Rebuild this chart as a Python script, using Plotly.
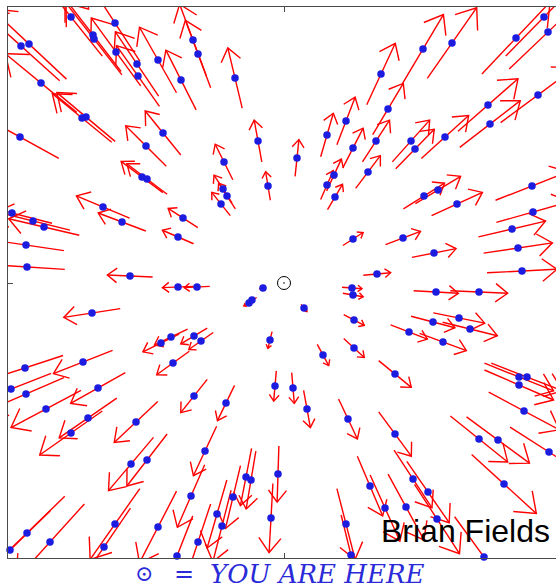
import plotly.graph_objects as go

# Galaxy positions relative to the observer (arbitrary distance units)
gal_x = [
    -213, -169, -191, -190, -263, -255, -168, -147, -126, -146, -103, -91, -86, -49,
    -243, -202, -198, -264, -121, -138, -60, -26, -16, -142, -137, -61, -57, -63,
    -181, -162, -101, -106, -272, -251, -240, -258, -257, -154, -106, -87, -21,
    260, 264, 232, 139, 168, 97, 254, 204, 206, 104, 62, 43, 69, 92, 13, 127, 131,
    161, 84, 50, 43, 51, 140, 154, 173, 248, 249, 228, 234, 238, 69, 119, 150, 93, 68,
    152, 195, 69, 20, 70, 149, 175, 186, 125, 159, 39, 70, 111, 235, 243, 235, 9, 23,
    240, 64, 111, 195, 214, 265, -6, 129, 144, 86, 220, 101, 122, 153, 62, 67, 200,
    -35, -32, -192, -113, -123, -90, -83, -111, -14, -259, -201, -273, -258, -186,
    -238, -196, -213, -90, -58, -9, -148, -79, -153, -137, -38, -33, -93, -51, -67,
    -62, -13, -169, -257, -274, -234, -126, -180, -86, -107,
]
gal_y = [
    266, 260, 248, 244, 237, 239, 231, 219, 223, 207, 203, 243, 229, 205,
    200, 165, 166, 146, 150, 137, 121, 142, 97, 106, 104, 94, 87, 79,
    76, 61, 65, 46, 70, 62, 56, 38, 16, 7, -4, -4, -5,
    266, 251, 245, 234, 240, 209, 188, 178, 159, 174, 162, 148, 135, 142, 125, 142, 134,
    146, 111, 108, 98, 86, 87, 93, 79, 97, 71, 54, 35, 12, 44, 45, 30, 9, -5,
    -9, -9, -12, -25, -37, -39, -35, -46, -49, -59, -72, -65, -91, -94, -94, -102, -105, -126,
    -128, -136, -151, -156, -157, -169, -191, -196, -209, -203, -201, -225, -224, -236, -241, -272, -274,
    -20, -17, -30, -54, -60, -53, -58, -80, -57, -85, -79, -106, -111, -105,
    -126, -135, -150, -113, -120, -103, -139, -168, -181, -177, -194, -197, -213, -214, -231,
    -243, -235, -241, -250, -267, -259, -244, -264, -259, -273,
]

# Hubble flow: each galaxy moves straight away from us, by an amount
# proportional to its distance.  The arrow spans the motion on both
# sides of the plotted position.
STEP = 0.147
HEAD_BACK = 0.21
HEAD_SIDE = 0.16

arrow_x, arrow_y = [], []
for x, y in zip(gal_x, gal_y):
    tx, ty = x * (1 - STEP), y * (1 - STEP)
    hx, hy = x * (1 + STEP), y * (1 + STEP)
    ux, uy = hx - tx, hy - ty
    px, py = -uy, ux
    w1x = hx - HEAD_BACK * ux + HEAD_SIDE * px
    w1y = hy - HEAD_BACK * uy + HEAD_SIDE * py
    w2x = hx - HEAD_BACK * ux - HEAD_SIDE * px
    w2y = hy - HEAD_BACK * uy - HEAD_SIDE * py
    arrow_x += [tx, hx, None, w1x, hx, w2x, None]
    arrow_y += [ty, hy, None, w1y, hy, w2y, None]

fig = go.Figure()
fig.add_trace(go.Scatter(
    x=arrow_x, y=arrow_y, mode="lines",
    line=dict(color="#ff0000", width=1.4),
    hoverinfo="skip", showlegend=False,
))
fig.add_trace(go.Scatter(
    x=gal_x, y=gal_y, mode="markers",
    marker=dict(color="#1c1ce0", size=7.5, line=dict(width=0)),
    cliponaxis=False, showlegend=False,
))
# the observer
fig.add_trace(go.Scatter(
    x=[0], y=[0], mode="markers",
    marker=dict(symbol="circle-open-dot", size=13, color="black",
                line=dict(color="black", width=1)),
    showlegend=False,
))

axis_style = dict(
    showgrid=False, zeroline=False, showline=True,
    linecolor="#4a4a4a", linewidth=1.2,
    ticks="inside", tickvals=[0], ticklen=5, tickcolor="#4a4a4a",
    showticklabels=False,
)
fig.update_xaxes(range=[-276, 272], mirror="ticks", **axis_style)
fig.update_yaxes(range=[-275, 276], mirror=False, **axis_style)

# caption below the frame (paper coordinates)
caption_color = "#2a2ad8"
cap_y = -0.029
fig.add_annotation(xref="paper", yref="paper", x=0.249, y=cap_y, text="⊙",
                   xanchor="center", yanchor="middle", showarrow=False, borderpad=0,
                   font=dict(family="DejaVu Serif", size=22, color=caption_color))
fig.add_annotation(xref="paper", yref="paper", x=0.321, y=cap_y, text="=",
                   xanchor="center", yanchor="middle", showarrow=False, borderpad=0,
                   font=dict(family="DejaVu Serif", size=24, color=caption_color))
fig.add_annotation(xref="paper", yref="paper", x=0.366, y=cap_y,
                   text="<i>YOU ARE HERE</i>",
                   xanchor="left", yanchor="middle", showarrow=False, borderpad=0,
                   font=dict(family="DejaVu Serif", size=26, color=caption_color))
fig.add_annotation(xref="x", yref="y", x=95, y=-248, text="Brian Fields",
                   xanchor="left", yanchor="middle", showarrow=False,
                   font=dict(family="Liberation Sans", size=32, color="black"))

fig.update_layout(
    width=556, height=585,
    margin=dict(l=8, r=0, t=7, b=27),
    plot_bgcolor="white", paper_bgcolor="white",
)

fig.write_html("out.html")
